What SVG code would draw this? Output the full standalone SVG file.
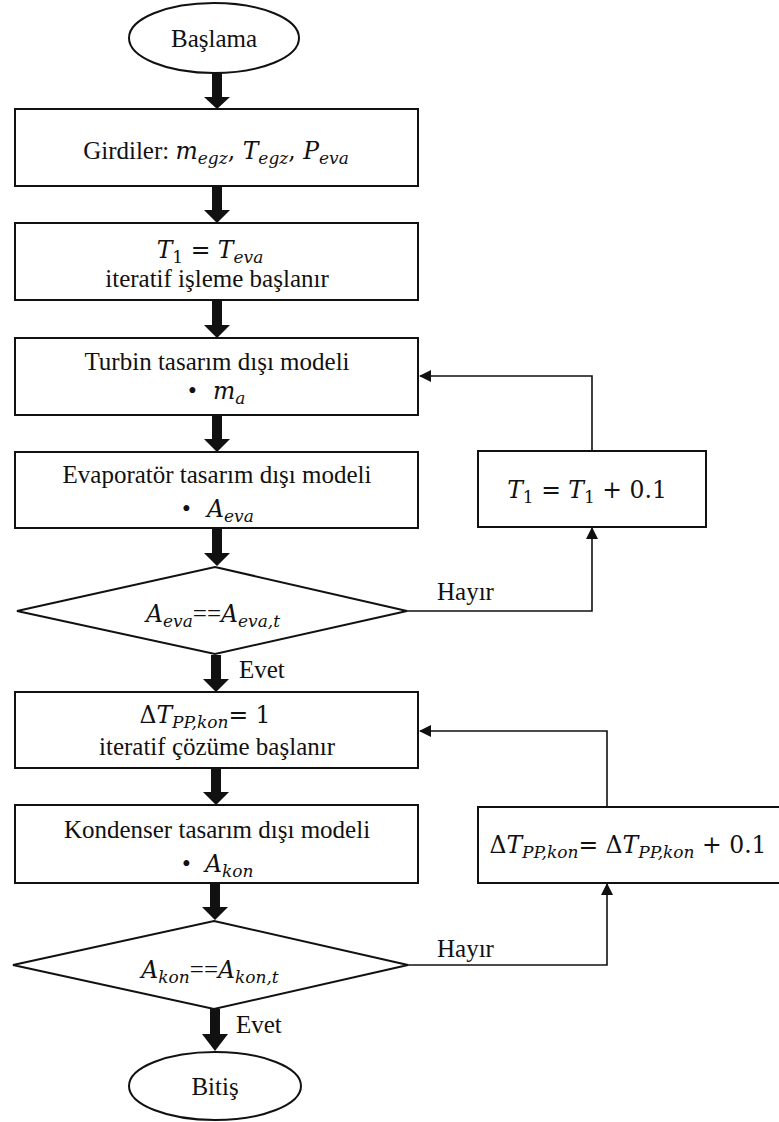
<svg xmlns="http://www.w3.org/2000/svg" width="779" height="1122" viewBox="0 0 779 1122">
  <style>
    .shape { fill: #ffffff; stroke: #111111; stroke-width: 2; }
    .fat { fill: #111111; stroke: none; }
    .link { fill: none; stroke: #111111; stroke-width: 1.6; }
    text { font-family: 'Liberation Serif', 'Times New Roman', serif; font-size: 25px; fill: #111111; }
    .m { font-family: 'DejaVu Serif', serif; font-style: italic; font-size: 23.5px; }
    .s { font-family: 'DejaVu Serif', serif; font-style: italic; font-size: 17px; }
    .u { font-family: 'DejaVu Serif', serif; font-size: 23.5px; }
    .su { font-family: 'DejaVu Serif', serif; font-size: 17px; }
  </style>
  <defs>
    <marker id="tip" markerUnits="userSpaceOnUse" markerWidth="12" markerHeight="12" refX="11" refY="6" orient="auto">
      <path d="M0,0 L12,6 L0,12 Z" fill="#111111"/>
    </marker>
  </defs>

  <!-- connectors -->
  <g id="connectors">
    <!-- thick downward flow arrows -->
    <path class="fat" d="M212,73 H222 V97 H230 L217,109 L204,97 H212 Z"/>
    <path class="fat" d="M212,186 H222 V210 H230 L217,223 L204,210 H212 Z"/>
    <path class="fat" d="M212,300 H222 V325 H230 L217,338 L204,325 H212 Z"/>
    <path class="fat" d="M212,415 H222 V439 H230 L217,452 L204,439 H212 Z"/>
    <path class="fat" d="M212,528 H222 V553 H230 L217,566 L204,553 H212 Z"/>
    <path class="fat" d="M211,655 H221 V679 H229 L216,692 L203,679 H211 Z"/>
    <path class="fat" d="M211,768 H221 V792 H229 L216,805 L203,792 H211 Z"/>
    <path class="fat" d="M210,883 H220 V907 H228 L215,920 L202,907 H210 Z"/>
    <path class="fat" d="M210,1009 H220 V1034 H228 L215,1051 L202,1034 H210 Z"/>
    <!-- loop 1: evaporator check -->
    <path class="link" d="M407,611 H592 V528" marker-end="url(#tip)"/>
    <path class="link" d="M592,451 V376 H420" marker-end="url(#tip)"/>
    <!-- loop 2: condenser check -->
    <path class="link" d="M408,965 H607 V884" marker-end="url(#tip)"/>
    <path class="link" d="M607,807 V731 H420" marker-end="url(#tip)"/>
    <text x="437" y="600">Hayır</text>
    <text x="437" y="957">Hayır</text>
    <text x="239" y="678">Evet</text>
    <text x="236" y="1033">Evet</text>
  </g>

  <g id="start">
    <ellipse class="shape" cx="214" cy="38" rx="85" ry="35"/>
    <text x="214" y="47" text-anchor="middle">Başlama</text>
  </g>

  <g id="inputs">
    <rect class="shape" x="15" y="109" width="403" height="77"/>
    <text x="216" y="159" text-anchor="middle">Girdiler: <tspan class="m">m</tspan><tspan class="s" dy="5">egz</tspan><tspan class="u" dy="-5">, </tspan><tspan class="m">T</tspan><tspan class="s" dy="5">egz</tspan><tspan class="u" dy="-5">, </tspan><tspan class="m">P</tspan><tspan class="s" dy="5">eva</tspan></text>
  </g>

  <g id="init-t1">
    <rect class="shape" x="15" y="223" width="403" height="77"/>
    <text x="210" y="258" text-anchor="middle"><tspan class="m">T</tspan><tspan class="su" dy="5">1</tspan><tspan class="u" dy="-5"> = </tspan><tspan class="m">T</tspan><tspan class="s" dy="5">eva</tspan></text>
    <text x="217" y="287" text-anchor="middle">iteratif işleme başlanır</text>
  </g>

  <g id="turbine">
    <rect class="shape" x="15" y="338" width="403" height="77"/>
    <text x="217" y="370" text-anchor="middle">Turbin tasarım dışı modeli</text>
    <text x="188" y="399">•</text>
    <text x="213" y="399"><tspan class="m">m</tspan><tspan class="s" dy="5">a</tspan></text>
  </g>

  <g id="evaporator">
    <rect class="shape" x="15" y="452" width="403" height="76"/>
    <text x="217" y="483" text-anchor="middle">Evaporatör tasarım dışı modeli</text>
    <text x="182" y="517">•</text>
    <text x="207" y="517"><tspan class="m">A</tspan><tspan class="s" dy="5">eva</tspan></text>
  </g>

  <g id="check-eva">
    <polygon class="shape" points="215,567 407,611 215,654 17,611"/>
    <text x="213" y="622" text-anchor="middle"><tspan class="m">A</tspan><tspan class="s" dy="5">eva</tspan><tspan dy="-5">==</tspan><tspan class="m">A</tspan><tspan class="s" dy="5">eva,t</tspan></text>
  </g>

  <g id="step-t1">
    <rect class="shape" x="478" y="451" width="228" height="76"/>
    <text x="587" y="498" text-anchor="middle"><tspan class="m">T</tspan><tspan class="su" dy="5">1</tspan><tspan class="u" dy="-5"> = </tspan><tspan class="m">T</tspan><tspan class="su" dy="5">1</tspan><tspan class="u" dy="-5"> + 0.1</tspan></text>
  </g>

  <g id="init-dt">
    <rect class="shape" x="15" y="692" width="403" height="76"/>
    <text x="205" y="723" text-anchor="middle"><tspan class="u">Δ</tspan><tspan class="m">T</tspan><tspan class="s" dy="5">PP,kon</tspan><tspan class="u" dy="-5">= 1</tspan></text>
    <text x="217" y="755" text-anchor="middle">iteratif çözüme başlanır</text>
  </g>

  <g id="condenser">
    <rect class="shape" x="15" y="805" width="403" height="78"/>
    <text x="217" y="838" text-anchor="middle">Kondenser tasarım dışı modeli</text>
    <text x="182" y="872">•</text>
    <text x="205" y="872"><tspan class="m">A</tspan><tspan class="s" dy="5">kon</tspan></text>
  </g>

  <g id="check-kon">
    <polygon class="shape" points="214,921 408,965 214,1009 13,965"/>
    <text x="210" y="978" text-anchor="middle"><tspan class="m">A</tspan><tspan class="s" dy="5">kon</tspan><tspan dy="-5">==</tspan><tspan class="m">A</tspan><tspan class="s" dy="5">kon,t</tspan></text>
  </g>

  <g id="step-dt">
    <rect class="shape" x="478" y="807" width="320" height="76"/>
    <text x="628" y="853" text-anchor="middle"><tspan class="u">Δ</tspan><tspan class="m">T</tspan><tspan class="s" dy="5">PP,kon</tspan><tspan class="u" dy="-5">= Δ</tspan><tspan class="m">T</tspan><tspan class="s" dy="5">PP,kon</tspan><tspan class="u" dy="-5"> + 0.1</tspan></text>
  </g>

  <g id="end">
    <ellipse class="shape" cx="215" cy="1086" rx="86" ry="34"/>
    <text x="215" y="1095" text-anchor="middle">Bitiş</text>
  </g>
</svg>
